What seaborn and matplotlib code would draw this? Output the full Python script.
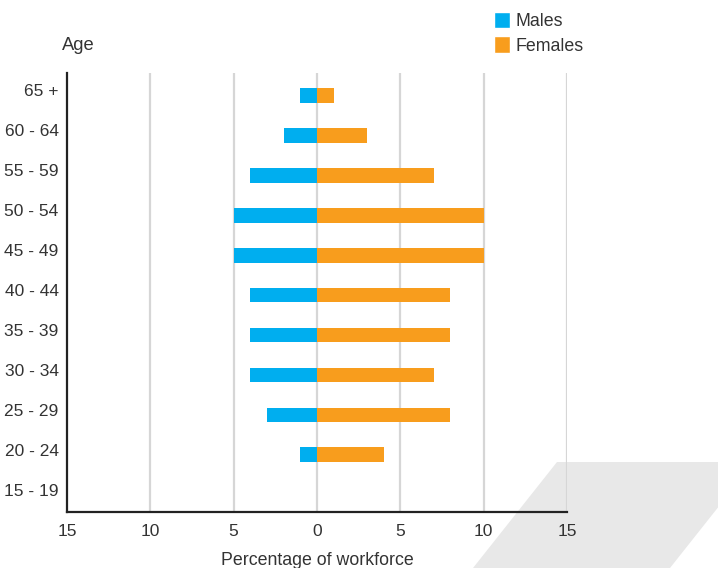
import matplotlib
matplotlib.use("Agg")
import matplotlib.pyplot as plt
import matplotlib.transforms as mtransforms
from matplotlib.patches import Polygon, Patch
import seaborn as sns
import pandas as pd

age_groups = ["65 +", "60 - 64", "55 - 59", "50 - 54", "45 - 49", "40 - 44",
              "35 - 39", "30 - 34", "25 - 29", "20 - 24", "15 - 19"]
males = [1, 2, 4, 5, 5, 4, 4, 4, 3, 1, 0]
females = [1, 3, 7, 10, 10, 8, 8, 7, 8, 4, 0]
tick_values = [-15, -10, -5, 0, 5, 10, 15]
tick_labels = ["15", "10", "5", "0", "5", "10", "15"]

male_color = "#00aeef"
female_color = "#f89d1d"
text_color = "#333333"

sns.set_theme(style="white")
plt.rcParams["font.family"] = ["Liberation Sans", "DejaVu Sans"]

df = pd.DataFrame({
    "age": age_groups * 2,
    "value": [-m for m in males] + females,
    "sex": ["Males"] * len(age_groups) + ["Females"] * len(age_groups),
})

fig = plt.figure(figsize=(7.18, 5.68), dpi=100)
fig.patch.set_facecolor("white")

# decorative grey parallelogram in the lower right corner
W, H = 718, 568
pts = [(557, 462), (754, 462), (670, 568), (473, 568)]
fig.patches.append(Polygon([(x / W, 1 - y / H) for x, y in pts], closed=True,
                           transform=fig.transFigure, facecolor="#e8e8e8",
                           edgecolor="none", zorder=0))

ax = fig.add_axes([67 / W, 1 - 512 / H, 500 / W, (512 - 73) / H])
ax.set_facecolor("none")
ax.set_zorder(2)

sns.barplot(data=df, x="value", y="age", hue="sex", order=age_groups,
            hue_order=["Males", "Females"], palette=[male_color, female_color],
            dodge=False, width=0.37, orient="h", ax=ax, legend=False,
            saturation=1, linewidth=0)

ax.set_xlim(-15, 15)
ax.set_ylim(len(age_groups) - 1 + 0.43, -0.56)
ax.set_xticks(tick_values)
ax.set_xticklabels(tick_labels)
for v in tick_values[1:]:
    ax.axvline(v, color="#d6d6d6", lw=1.6, zorder=0.5)

for s in ["top", "right"]:
    ax.spines[s].set_visible(False)
for s in ["left", "bottom"]:
    ax.spines[s].set_color("#222222")
    ax.spines[s].set_linewidth(1.6)
    ax.spines[s].set_zorder(3)

ax.tick_params(axis="both", length=0, labelsize=12.5, labelcolor=text_color)
ax.tick_params(axis="x", pad=9)
ax.tick_params(axis="y", pad=6)
# age labels sit a little above the centre of their bars
shift = mtransforms.ScaledTranslation(0, 5 / 100, fig.dpi_scale_trans)
for lbl in ax.get_yticklabels():
    lbl.set_transform(lbl.get_transform() + shift)

ax.set_ylabel("")
ax.set_xlabel("Percentage of workforce", fontsize=12.8, color=text_color,
              labelpad=9)

fig.text(62 / W, 1 - 45 / H, "Age", fontsize=13.2, color=text_color,
         ha="left", va="center")

handles = [Patch(facecolor=male_color, label="Males"),
           Patch(facecolor=female_color, label="Females")]
leg = fig.legend(handles=handles, loc="upper left",
                 bbox_to_anchor=(494 / W, 1 - 12 / H), frameon=False,
                 fontsize=12.8, handlelength=0.9, handleheight=1.02,
                 handletextpad=0.3, labelspacing=0.35, borderaxespad=0,
                 borderpad=0)
for t in leg.get_texts():
    t.set_color(text_color)

fig.savefig("out.png", dpi=100)
